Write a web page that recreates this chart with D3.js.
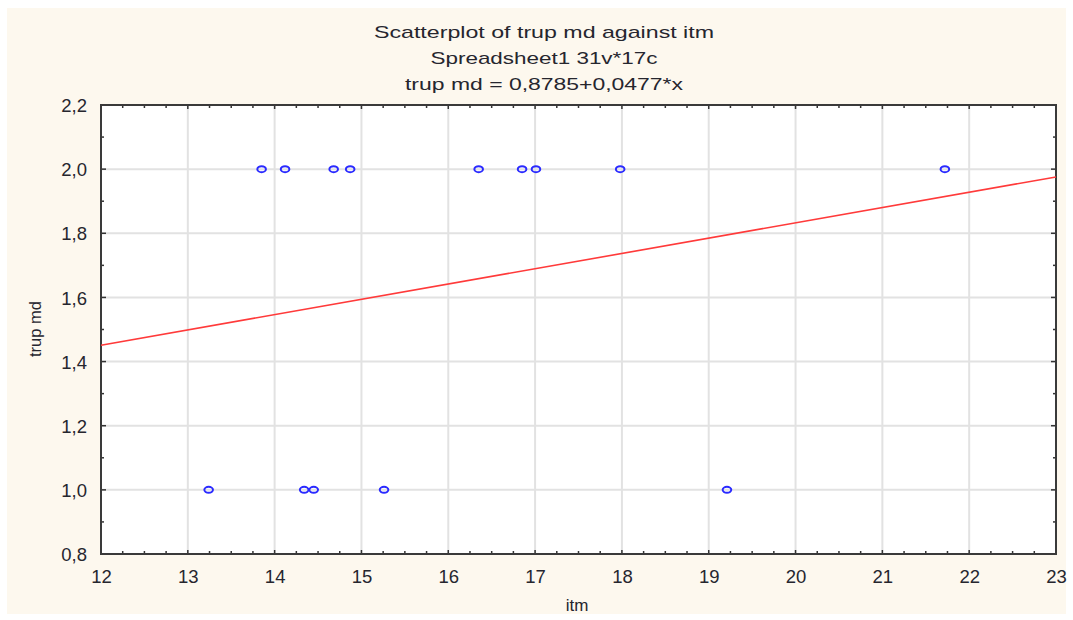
<!DOCTYPE html>
<html>
<head>
<meta charset="utf-8">
<script src="https://cdn.jsdelivr.net/npm/d3@7"></script>
<style>
  html, body { margin: 0; padding: 0; background: #ffffff; }
  svg text { font-family: "Liberation Sans", Arial, sans-serif; fill: #26262e; }
</style>
</head>
<body>
<svg id="chart" width="1073" height="620"></svg>
<script>
// ---- data ----
const itmHigh = [13.85, 14.12, 14.68, 14.87, 16.35, 16.85, 17.01, 17.98, 21.72];
const trupHigh = [2, 2, 2, 2, 2, 2, 2, 2, 2];
const itmLow = [13.24, 14.34, 14.45, 15.26, 19.21];
const trupLow = [1, 1, 1, 1, 1];
const xTicks = [12, 13, 14, 15, 16, 17, 18, 19, 20, 21, 22, 23];
const yTicks = [0.8, 1.0, 1.2, 1.4, 1.6, 1.8, 2.0, 2.2];
const intercept = 0.8785;
const slope = 0.0477;
const titleLines = ["Scatterplot of trup md against itm", "Spreadsheet1 31v*17c", "trup md = 0,8785+0,0477*x"];
const xLabel = "itm";
const yLabel = "trup md";

// ---- layout ----
const svg = d3.select("#chart");
const L = 101, R = 1056, T = 105, B = 554;

svg.append("rect").attr("x", 7).attr("y", 8).attr("width", 1059).attr("height", 606).attr("fill", "#fdf8ee");

const x = d3.scaleLinear().domain([12, 23]).range([L, R]);
const y = d3.scaleLinear().domain([0.8, 2.2]).range([B, T]);

svg.append("rect").attr("x", L).attr("y", T).attr("width", R - L).attr("height", B - T).attr("fill", "#ffffff");

// gridlines
const grid = svg.append("g").attr("stroke", "#e2e2e2").attr("stroke-width", 2);
xTicks.slice(1, -1).forEach(v => grid.append("line").attr("x1", x(v)).attr("x2", x(v)).attr("y1", T).attr("y2", B));
yTicks.slice(1, -1).forEach(v => grid.append("line").attr("x1", L).attr("x2", R).attr("y1", y(v)).attr("y2", y(v)));

// axes (ticks inside)
const fmt = d => d3.format(".1f")(d).replace(".", ",");
const minorX = d3.range(12, 23.001, 0.25);
const minorY = d3.range(0.8, 2.2001, 0.1);

const axB = svg.append("g").attr("transform", `translate(0,${B})`)
  .call(d3.axisBottom(x).tickValues(xTicks).tickSize(0).tickPadding(12).tickFormat(d3.format("d")));
const axL = svg.append("g").attr("transform", `translate(${L},0)`)
  .call(d3.axisLeft(y).tickValues(yTicks).tickSize(0).tickPadding(14).tickFormat(fmt));
[axB, axL].forEach(a => {
  a.select(".domain").remove();
  a.selectAll("text").attr("font-size", 18.5).attr("fill", "#22222c")
    .attr("font-family", "'Liberation Sans', Arial, sans-serif");
});
axB.selectAll("text").attr("dy", "0.9em");
axL.selectAll("text").attr("dy", "0.36em");

// minor ticks
const tk = svg.append("g").attr("stroke", "#333").attr("stroke-width", 1.5);
minorX.forEach((v, i) => {
  const len = (i % 4 === 0) ? 4 : 3;
  tk.append("line").attr("x1", x(v)).attr("x2", x(v)).attr("y1", B).attr("y2", B - len);
  tk.append("line").attr("x1", x(v)).attr("x2", x(v)).attr("y1", T).attr("y2", T + len);
});
minorY.forEach((v, i) => {
  const len = (i % 2 === 0) ? 5 : 3;
  tk.append("line").attr("x1", L).attr("x2", L + len).attr("y1", y(v)).attr("y2", y(v));
  tk.append("line").attr("x1", R).attr("x2", R - len).attr("y1", y(v)).attr("y2", y(v));
});

// frame
svg.append("rect").attr("x", L).attr("y", T).attr("width", R - L).attr("height", B - T)
  .attr("fill", "none").attr("stroke", "#3a3a3a").attr("stroke-width", 2);

// regression line
const xd = x.domain();
svg.append("line")
  .attr("x1", x(xd[0])).attr("y1", y(intercept + slope * xd[0]))
  .attr("x2", x(xd[1])).attr("y2", y(intercept + slope * xd[1]))
  .attr("stroke", "#ff3a3a").attr("stroke-width", 1.6);

// points
const pts = itmHigh.map((v, i) => [v, trupHigh[i]]).concat(itmLow.map((v, i) => [v, trupLow[i]]));
svg.append("g").selectAll("ellipse").data(pts).join("ellipse")
  .attr("cx", d => x(d[0])).attr("cy", d => y(d[1]))
  .attr("rx", 4.3).attr("ry", 3)
  .attr("fill", "none").attr("stroke", "#2a2aff").attr("stroke-width", 2);

// titles
const cx = 544;
const tw = [340, 227, 278];
const tb = [38, 64, 90];
titleLines.forEach((t, i) => {
  svg.append("text").attr("x", cx).attr("y", tb[i]).attr("text-anchor", "middle")
    .attr("font-size", 17).attr("textLength", tw[i]).attr("lengthAdjust", "spacingAndGlyphs")
    .text(t);
});

// axis labels
svg.append("text").attr("x", 577).attr("y", 611).attr("text-anchor", "middle")
  .attr("font-size", 17).text(xLabel);
svg.append("text").attr("transform", `translate(41,329) rotate(-90)`).attr("text-anchor", "middle")
  .attr("font-size", 16.5).text(yLabel);
</script>
</body>
</html>
